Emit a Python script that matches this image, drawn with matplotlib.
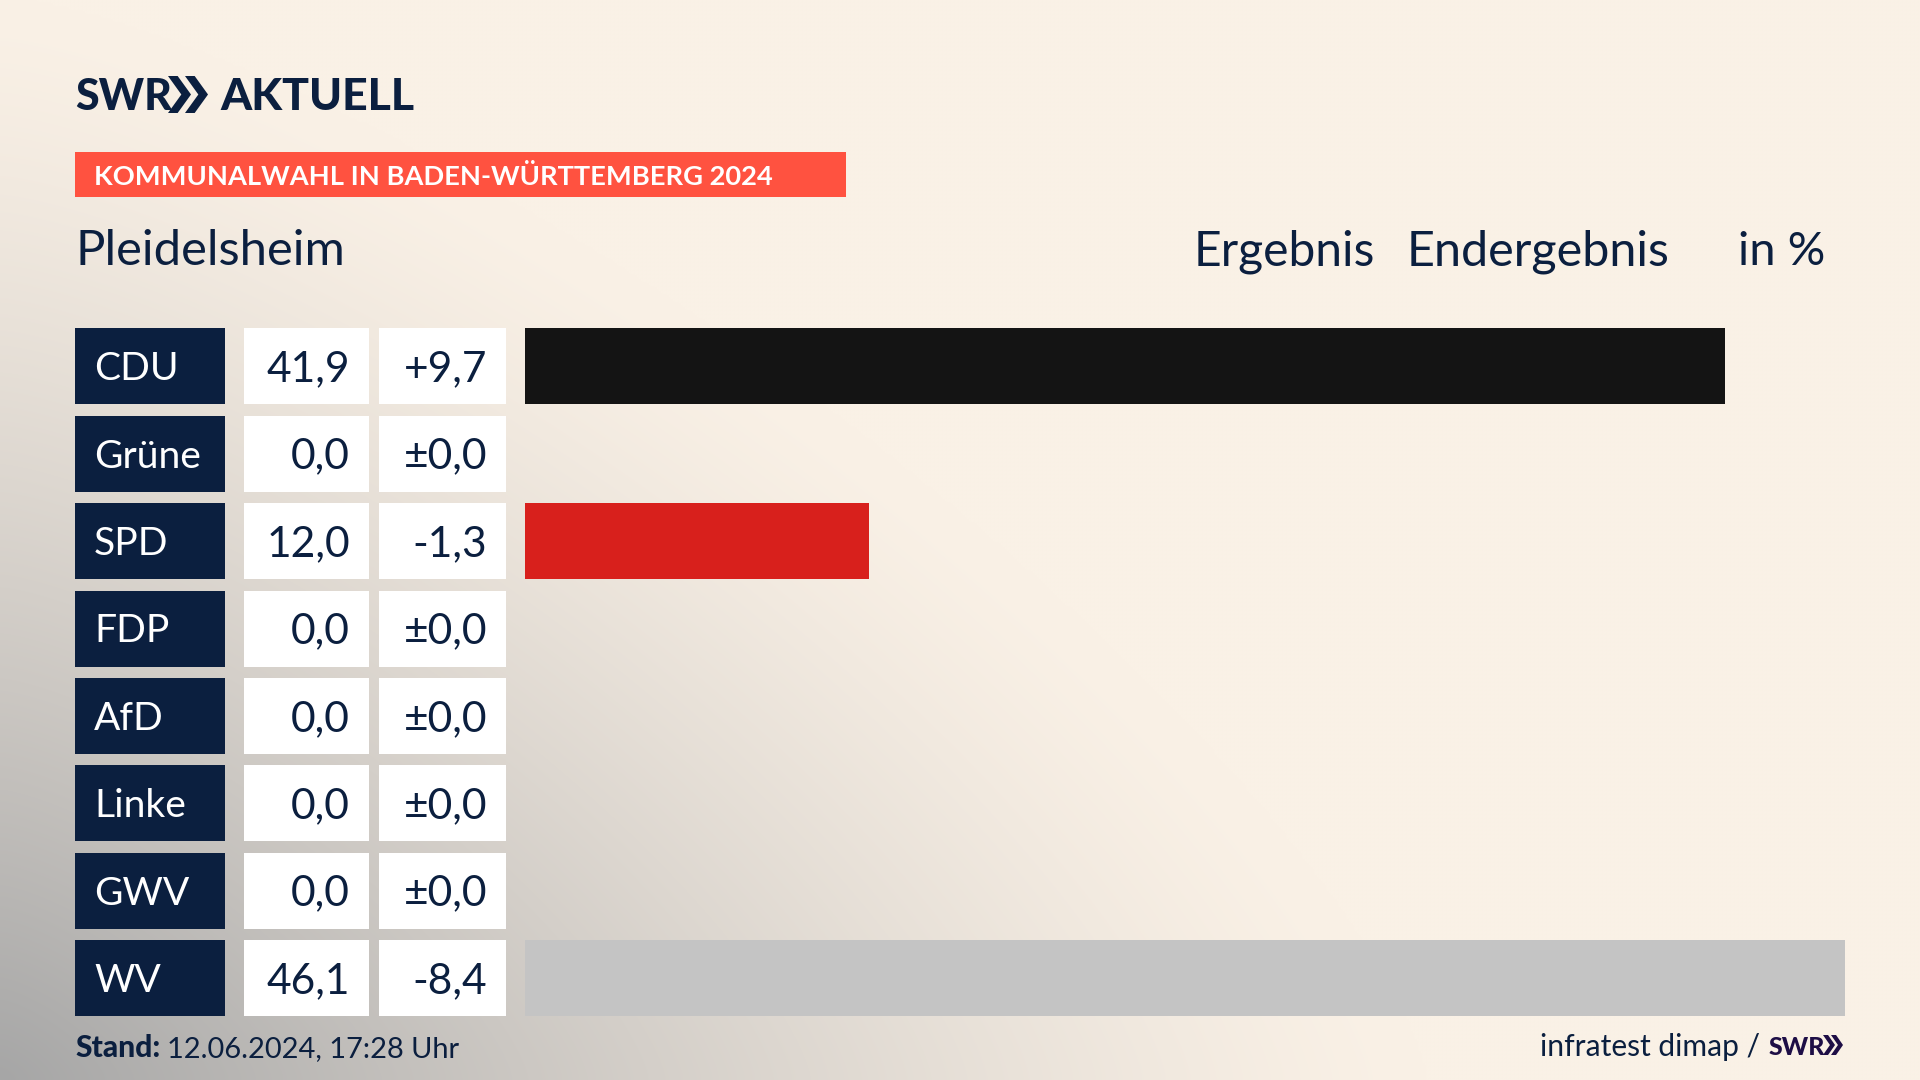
import numpy as np
import matplotlib
matplotlib.use("Agg")
import matplotlib.pyplot as plt
from matplotlib.patches import Rectangle, Polygon
from matplotlib.colors import to_rgb

parties = ["CDU", "Grüne", "SPD", "FDP", "AfD", "Linke", "GWV", "WV"]
values = [41.9, 0.0, 12.0, 0.0, 0.0, 0.0, 0.0, 46.1]
value_labels = ["41,9", "0,0", "12,0", "0,0", "0,0", "0,0", "0,0", "46,1"]
diff_labels = ["+9,7", "±0,0", "-1,3", "±0,0", "±0,0", "±0,0", "±0,0", "-8,4"]
bar_colors = ["#141414", "#1a7d3a", "#D8201C", "#f5d000", "#1a9ad6", "#b0157a", "#888888", "#C4C4C4"]

NAVY = "#0B1F3F"
W, H = 1920, 1080
plt.rcParams["font.family"] = ["Lato", "DejaVu Sans"]

fig = plt.figure(figsize=(19.2, 10.8), dpi=100)
bg = fig.add_axes([0, 0, 1, 1])
bg.axis("off")

# soft background wash, pale cream with a grey glow out of the lower left corner
xx, yy = np.meshgrid(np.linspace(0, 1, 480), np.linspace(0, 1, 270))
p = 1.35
r = ((xx / 0.74) ** p + ((1 - yy) / 1.0) ** p) ** (1 / p)
s = np.clip(1 - r, 0, 1)
t = s ** 1.3
base = np.array(to_rgb("#FAF1E6"))
grey = np.array(to_rgb("#A6A6A6"))
img = base[None, None, :] * (1 - t[..., None]) + grey[None, None, :] * t[..., None]
bg.imshow(img, extent=(0, W, H, 0), aspect="auto", zorder=0, interpolation="bicubic")
bg.set_xlim(0, W)
bg.set_ylim(H, 0)


def px(size):
    return size * 0.72


def chevrons(x0, y0, y1, w, gap, color):
    mid = (y0 + y1) / 2
    for k in range(2):
        x = x0 + k * gap
        bg.add_patch(Polygon([(x, y0), (x + w * 0.42, y0), (x + w, mid), (x + w * 0.42, y1), (x, y1),
                              (x + w * 0.58, mid)], closed=True, fc=color, ec="none", zorder=3))


# header
bg.text(75, 110, "SWR", fontsize=px(43), fontweight="black", color=NAVY, va="baseline", ha="left", zorder=3)
chevrons(168, 76, 113, 23, 17, NAVY)
bg.text(220, 110, "AKTUELL", fontsize=px(44.5), fontweight="black", color=NAVY, va="baseline", ha="left", zorder=3)
bg.add_patch(Rectangle((75, 152), 771, 45, fc="#FF5240", ec="none", zorder=2))
bg.text(94, 185, "KOMMUNALWAHL IN BADEN-WÜRTTEMBERG 2024", fontsize=px(27.3), fontweight="bold",
        color="white", va="baseline", zorder=3)
bg.text(75, 265, "Pleidelsheim", fontsize=px(49), color=NAVY, va="baseline", zorder=3)
bg.text(1194, 265, "Ergebnis", fontsize=px(48), color=NAVY, va="baseline", zorder=3)
bg.text(1407, 265, "Endergebnis", fontsize=px(48.5), color=NAVY, va="baseline", zorder=3)
bg.text(1825, 265, "in %", fontsize=px(47), color=NAVY, va="baseline", ha="right", zorder=3)

# rows
TOP, PITCH, ROW_H = 328.3, 87.4, 76
for i, (name, val, diff) in enumerate(zip(parties, value_labels, diff_labels)):
    y = TOP + i * PITCH
    base_y = y + 38 + 15
    bg.add_patch(Rectangle((75, y), 150, ROW_H, fc=NAVY, ec="none", zorder=2))
    bg.add_patch(Rectangle((244, y), 125, ROW_H, fc="white", ec="none", zorder=2))
    bg.add_patch(Rectangle((379, y), 127, ROW_H, fc="white", ec="none", zorder=2))
    bg.text(94, base_y - 1, name, fontsize=px(39), color="white", va="baseline", zorder=3)
    bg.text(350, base_y, val, fontsize=px(42.5), color=NAVY, va="baseline", ha="right", zorder=3)
    bg.text(487, base_y, diff, fontsize=px(42.5), color=NAVY, va="baseline", ha="right", zorder=3)

# bars
ax = fig.add_axes([525 / W, 1 - 1016 / H, 1320 / W, 688 / H])
ax.patch.set_alpha(0)
ax.barh(range(len(values)), values, height=ROW_H / PITCH, color=bar_colors, left=0)
ax.set_xlim(0, 46.1)
ax.set_ylim(7 + 38 / PITCH, -38 / PITCH)
ax.axis("off")

# footer
bg.text(75, 1057, "Stand:", fontsize=px(30), fontweight="black", color=NAVY, va="baseline", zorder=3)
bg.text(167, 1057, "12.06.2024, 17:28 Uhr", fontsize=px(29), color=NAVY, va="baseline", zorder=3)
bg.text(1760, 1056, "infratest dimap /", fontsize=px(30), color=NAVY, va="baseline", ha="right", zorder=3)
bg.text(1769, 1055, "SWR", fontsize=px(25), fontweight="black", color="#1E0E46", va="baseline", zorder=3)
chevrons(1823, 1035, 1055, 12, 8, "#1E0E46")

fig.savefig("out.png", dpi=100)
